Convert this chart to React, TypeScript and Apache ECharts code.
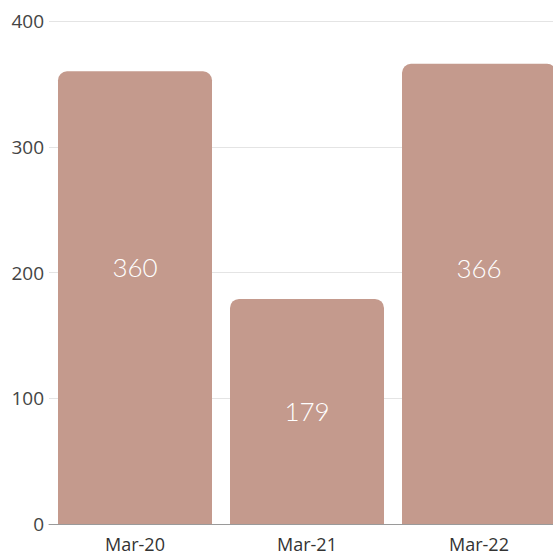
import React, { useEffect, useRef } from "react";
import * as echarts from "echarts";

const categories = ["Mar-20", "Mar-21", "Mar-22"];
const values = [360, 179, 366];
const yTicks = [0, 100, 200, 300, 400];

export default function App() {
  const ref = useRef<HTMLDivElement>(null);
  useEffect(() => {
    if (!ref.current) return;
    const chart = echarts.init(ref.current, null, { renderer: "svg" });
    const labelOffsets = [-31, 0, -26];
    chart.setOption({
      animation: false,
      backgroundColor: "#ffffff",
      grid: { left: 49, top: 21, bottom: 33, right: 0, containLabel: false },
      xAxis: {
        type: "category",
        data: categories,
        axisTick: { show: false },
        axisLine: { show: true, lineStyle: { color: "#9a9a9a", width: 1 } },
        axisLabel: { color: "#333333", fontSize: 18, fontFamily: "Open Sans", margin: 11 },
      },
      yAxis: {
        type: "value",
        min: yTicks[0],
        max: yTicks[yTicks.length - 1],
        interval: 100,
        axisLine: { show: false },
        axisTick: { show: false },
        splitLine: { lineStyle: { color: "#e4e4e4", width: 1 } },
        axisLabel: { color: "#444444", fontSize: 19, fontFamily: "Open Sans", margin: 5 },
      },
      series: [
        {
          type: "bar",
          data: values.map((v, i) => ({ value: v, label: { offset: [0, labelOffsets[i]] } })),
          barWidth: 154,
          itemStyle: { color: "#c49a8d", borderRadius: [9, 9, 0, 0] },
          label: {
            show: true,
            position: "inside",
            color: "#ffffff",
            fontSize: 26,
            fontFamily: "Lato",
            fontWeight: 300,
          },
        },
      ],
    });
    return () => chart.dispose();
  }, []);
  return (
    <div style={{ position: "fixed", left: 0, top: 0, width: 553, height: 557, overflow: "hidden" }}>
      <div ref={ref} style={{ width: 565, height: 557 }} />
    </div>
  );
}
